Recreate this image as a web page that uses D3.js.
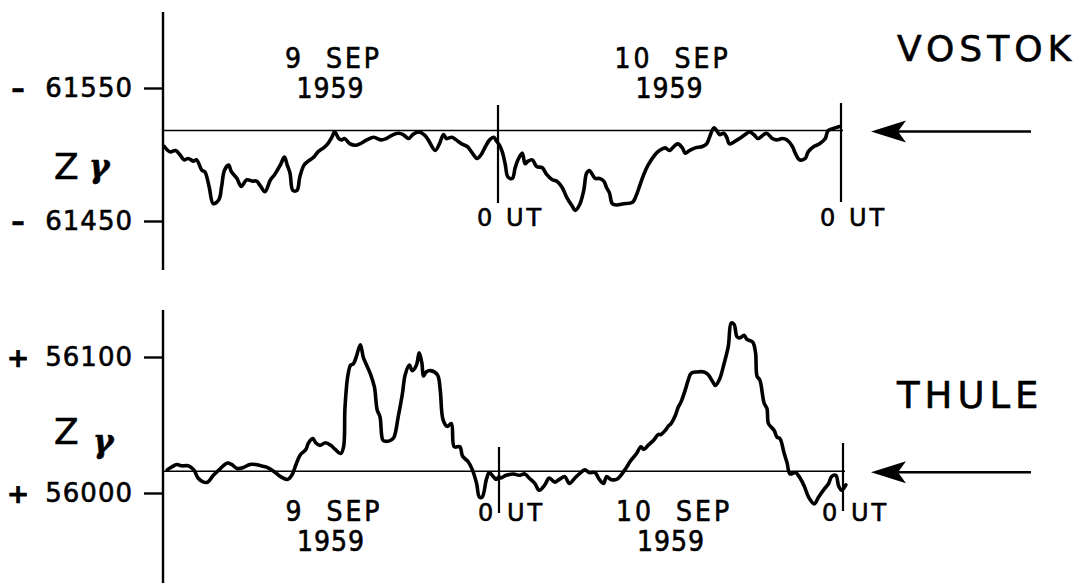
<!DOCTYPE html>
<html>
<head>
<meta charset="utf-8">
<script src="https://cdn.jsdelivr.net/npm/d3@7"></script>
<style>
body { margin: 0; background: #fff; }
text { font-family: "DejaVu Sans", sans-serif; fill: #000; stroke: #000; stroke-width: 0.6px; }
.date { font-family: "DejaVu Sans Condensed", "DejaVu Sans", sans-serif; }
</style>
</head>
<body>
<div class="chartContainer"></div>
<script>
// ======= data (hours from 0 UT 9 Sep 1959, Z in gamma) =======

var vostokHours = [0.1,0.5,0.9,1.2,1.5,1.8,2.2,2.4,2.8,3.0,3.3,3.6,4.0,4.2,4.4,4.7,4.9,5.3,5.6,6.0,
  6.4,6.7,7.0,7.3,7.7,8.0,8.4,8.7,8.9,9.1,9.3,9.6,9.8,10.1,10.4,10.8,11.1,11.5,11.8,12.1,
  12.3,12.6,12.8,13.0,13.4,13.8,14.1,14.6,15.1,15.6,16.0,16.5,16.9,17.2,17.6,17.9,18.3,18.7,19.0,19.5,
  19.8,20.1,20.3,20.7,21.0,21.4,21.8,22.1,22.5,22.8,23.1,23.4,23.7,23.9,24.1,24.3,24.5,24.7,25.0,25.2,
  25.4,25.7,25.9,26.1,26.4,26.7,27.1,27.4,27.8,28.1,28.5,28.8,29.2,29.4,29.7,30.0,30.2,30.4,30.6,30.8,
  31.1,31.4,31.6,31.8,32.0,32.3,32.8,33.4,33.7,33.9,34.2,34.5,35.0,35.3,35.7,36.0,36.4,36.6,36.9,37.1,
  37.4,37.8,38.3,38.6,38.8,39.1,39.3,39.5,39.8,40.0,40.2,40.6,40.9,41.3,41.6,41.9,42.2,42.6,42.8,43.2,
  43.5,43.9,44.2,44.6,44.8,45.1,45.5,45.7,46.1,46.5,46.9,47.1,47.6,47.9];
var vostokZ = [61506,61502,61503,61500,61496,61497,61495,61496,61488,61487,61476,61463,61466,61476,61488,61492,61487,61482,61476,61481,
  61480,61480,61476,61472,61481,61485,61492,61498,61492,61486,61473,61473,61483,61492,61495,61498,61502,61505,61508,61513,
  61517,61512,61511,61512,61508,61507,61508,61511,61513,61511,61512,61515,61516,61515,61512,61515,61517,61515,61511,61503,
  61508,61515,61512,61513,61511,61508,61506,61502,61497,61500,61506,61511,61513,61510,61507,61502,61493,61483,61482,61490,
  61496,61501,61493,61495,61496,61491,61490,61485,61481,61480,61475,61468,61461,61458,61462,61473,61486,61488,61485,61482,
  61482,61480,61475,61471,61463,61462,61463,61464,61470,61476,61485,61492,61500,61503,61505,61503,61507,61508,61505,61501,
  61503,61505,61506,61508,61513,61520,61518,61515,61516,61513,61508,61510,61512,61515,61517,61515,61512,61515,61516,61512,
  61511,61512,61511,61506,61501,61496,61497,61502,61506,61508,61512,61518,61520,61521];

var thuleHours = [0.3,0.6,1.0,1.3,1.8,2.2,2.5,2.9,3.2,3.6,4.1,4.6,4.9,5.3,5.8,6.2,6.6,7.0,7.4,7.9,
  8.4,8.9,9.2,9.5,9.8,10.2,10.4,10.7,10.9,11.2,11.6,12.0,12.3,12.7,12.9,13.0,13.2,13.4,13.6,13.8,
  14.1,14.3,14.5,14.8,15.1,15.3,15.5,15.7,15.9,16.3,16.5,16.8,17.1,17.3,17.6,17.8,18.1,18.3,18.5,18.6,
  18.8,19.1,19.6,19.8,20.0,20.3,20.6,20.8,21.2,21.4,21.8,22.1,22.4,22.6,22.8,23.1,23.3,23.6,23.8,24.0,
  24.1,24.5,25.0,25.4,25.8,26.1,26.5,26.8,27.2,27.5,27.9,28.2,28.6,28.9,29.3,29.6,30.0,30.3,30.7,31.0,
  31.3,31.5,31.8,32.2,32.5,32.9,33.2,33.6,33.9,34.1,34.4,34.8,35.1,35.3,35.6,35.8,36.0,36.3,36.5,36.7,
  37.0,37.2,37.4,37.8,38.3,38.6,38.9,39.1,39.4,39.7,40.0,40.2,40.4,40.6,40.8,41.1,41.3,41.7,41.9,42.0,
  42.2,42.5,42.7,42.8,43.2,43.4,43.6,43.9,44.1,44.3,44.7,45.0,45.3,45.6,46.0,46.3,46.7,47.0,47.2,47.5,
  47.7,47.9,48.2];
var thuleZ = [56017,56019,56021,56020,56020,56017,56011,56008,56008,56013,56018,56022,56021,56018,56019,56021,56021,56020,56019,56016,
  56012,56010,56013,56021,56028,56032,56037,56040,56037,56035,56037,56035,56032,56029,56034,56063,56086,56094,56095,56100,
  56109,56100,56095,56088,56078,56061,56056,56039,56038,56039,56041,56056,56073,56087,56094,56090,56094,56103,56095,56086,
  56089,56090,56087,56076,56054,56049,56051,56034,56034,56027,56023,56017,56007,55997,55997,56010,56015,56012,56010,56012,
  56011,56013,56014,56013,56014,56011,56007,56002,56006,56011,56008,56010,56012,56007,56011,56014,56017,56015,56015,56010,
  56007,56012,56010,56010,56013,56019,56024,56029,56034,56032,56035,56039,56043,56043,56046,56049,56051,56057,56063,56067,
  56076,56083,56088,56089,56089,56087,56082,56079,56084,56095,56108,56125,56124,56115,56114,56116,56113,56111,56103,56086,
  56083,56066,56062,56051,56046,56041,56040,56029,56022,56014,56015,56011,56005,55997,55992,55997,56003,56007,56012,56013,
  56005,56002,56006];

var vostokTicks = [61550, 61450];
var thuleTicks = [56100, 56000];
var vostokQuiet = 61518;   // quiet level (arrow)
var thuleQuiet = 56016;
var dayNames = ["9  SEP", "10  SEP"];
var dayYear = "1959";
var dayCentres = [12, 36];
var midnights = [24, 48];

// ======= setup =======

var width = 1080;
var height = 583;

var svg = d3.select(".chartContainer")
  .append("svg")
    .attr("width", width)
    .attr("height", height);

var panels = [
  { station: "VOSTOK", hours: vostokHours, z: vostokZ, ticks: vostokTicks, quiet: vostokQuiet, sign: "\u2013",
    x: d3.scaleLinear().domain([0, 24, 48]).range([163, 498, 841]),
    y: d3.scaleLinear().domain([61450, 61550]).range([221, 88]),
    axisY: [12, 270], midLine: [[105, 203], [103, 202]],
    dateY: [68, 98], utY: 226, stationY: 61, stationSize: 36,
    zY: 179, gX: 89, gY: 177 },
  { station: "THULE", hours: thuleHours, z: thuleZ, ticks: thuleTicks, quiet: thuleQuiet, sign: "+",
    x: d3.scaleLinear().domain([0, 24, 48]).range([163, 499, 843]),
    y: d3.scaleLinear().domain([56000, 56100]).range([493, 357]),
    axisY: [310, 583], midLine: [[447, 513], [443, 511]],
    dateY: [521, 551], utY: 521, stationY: 408, stationSize: 37,
    zY: 444, gX: 93, gY: 452 }
];

panels.forEach(drawPanel);

// ======= helper functions =======

function drawPanel(p) {
    var g = svg.append("g").attr("class", "panel");
    var x = p.x, y = p.y;
    var x0 = x(0);

    // vertical axis line
    g.append("line")
        .attr("x1", x0).attr("x2", x0)
        .attr("y1", p.axisY[0]).attr("y2", p.axisY[1])
        .style("stroke", "black").style("stroke-width", 2.4);

    // ticks
    var axis = g.append("g")
        .attr("transform", "translate(" + x0 + ",0)")
        .call(d3.axisLeft(y).tickValues(p.ticks).tickSize(19).tickSizeOuter(0).tickFormat(""));
    axis.select(".domain").remove();
    axis.selectAll(".tick line").style("stroke", "black").style("stroke-width", 2.4);

    // tick labels
    g.selectAll(".num")
        .data(p.ticks)
      .enter().append("text")
        .attr("class", "num")
        .attr("x", 133)
        .attr("y", function(d) { return y(d); })
        .attr("dy", "0.36em")
        .attr("text-anchor", "end")
        .style("font-size", "26px")
        .style("letter-spacing", "1px")
        .text(function(d) { return d; });

    g.selectAll(".sign")
        .data(p.ticks)
      .enter().append("text")
        .attr("class", "sign")
        .attr("x", 18)
        .attr("y", function(d) { return y(d); })
        .attr("dy", "0.36em")
        .attr("text-anchor", "middle")
        .style("font-size", "27px")
        .style("font-weight", "bold")
        .text(p.sign);

    // Z gamma label
    g.append("text")
        .attr("x", 54).attr("y", p.zY)
        .style("font-size", "36px")
        .text("Z");
    g.append("text")
        .attr("x", p.gX).attr("y", p.gY)
        .style("font-family", "'DejaVu Serif', serif")
        .style("font-style", "italic")
        .style("font-weight", "bold")
        .style("font-size", "31px")
        .text("\u03B3");

    // quiet level line
    g.append("line")
        .attr("x1", x0).attr("x2", x(48) + 2)
        .attr("y1", y(p.quiet)).attr("y2", y(p.quiet))
        .style("stroke", "black").style("stroke-width", 1.6);

    // midnight markers
    g.selectAll(".midnight")
        .data(midnights)
      .enter().append("line")
        .attr("class", "midnight")
        .attr("x1", function(d) { return x(d); })
        .attr("x2", function(d) { return x(d); })
        .attr("y1", function(d, i) { return p.midLine[i][0]; })
        .attr("y2", function(d, i) { return p.midLine[i][1]; })
        .style("stroke", "black").style("stroke-width", 2.2);

    g.selectAll(".ut")
        .data(midnights)
      .enter().append("text")
        .attr("class", "ut")
        .attr("x", function(d) { return x(d) - 21; })
        .attr("y", p.utY)
        .style("font-size", "24px")
        .style("letter-spacing", "3px")
        .text("0 UT");

    // day labels
    g.selectAll(".day")
        .data(dayCentres)
      .enter().append("text")
        .attr("class", "date")
        .attr("x", function(d) { return x(d) + 3; })
        .attr("y", p.dateY[0])
        .attr("text-anchor", "middle")
        .style("font-size", "28px")
        .style("letter-spacing", "3px")
        .style("white-space", "pre")
        .text(function(d, i) { return dayNames[i]; });

    g.selectAll(".year")
        .data(dayCentres)
      .enter().append("text")
        .attr("class", "date")
        .attr("x", function(d) { return x(d); })
        .attr("y", p.dateY[1])
        .attr("text-anchor", "middle")
        .style("font-size", "28px")
        .style("letter-spacing", "1px")
        .text(dayYear);

    // station name
    g.append("text")
        .attr("x", 897).attr("y", p.stationY)
        .style("font-size", p.stationSize + "px")
        .style("letter-spacing", "5px")
        .text(p.station);

    // arrow pointing at quiet level
    var ay = y(p.quiet) + 1;
    g.append("line")
        .attr("x1", 896).attr("x2", 1031)
        .attr("y1", ay).attr("y2", ay)
        .style("stroke", "black").style("stroke-width", 2.6);
    g.append("path")
        .attr("d", "M871," + ay + " L906," + (ay - 11) + " L898," + ay + " L906," + (ay + 11) + " Z")
        .style("fill", "black");

    // the magnetogram trace
    var line = d3.line()
        .x(function(d) { return x(d[0]); })
        .y(function(d) { return y(d[1]); })
        .curve(d3.curveCatmullRom.alpha(0.5));

    g.append("path")
        .datum(d3.zip(p.hours, p.z))
        .attr("d", line)
        .style("fill", "none")
        .style("stroke", "black")
        .style("stroke-width", 3.6)
        .style("stroke-linejoin", "round")
        .style("stroke-linecap", "round");
}
</script>
</body>
</html>
